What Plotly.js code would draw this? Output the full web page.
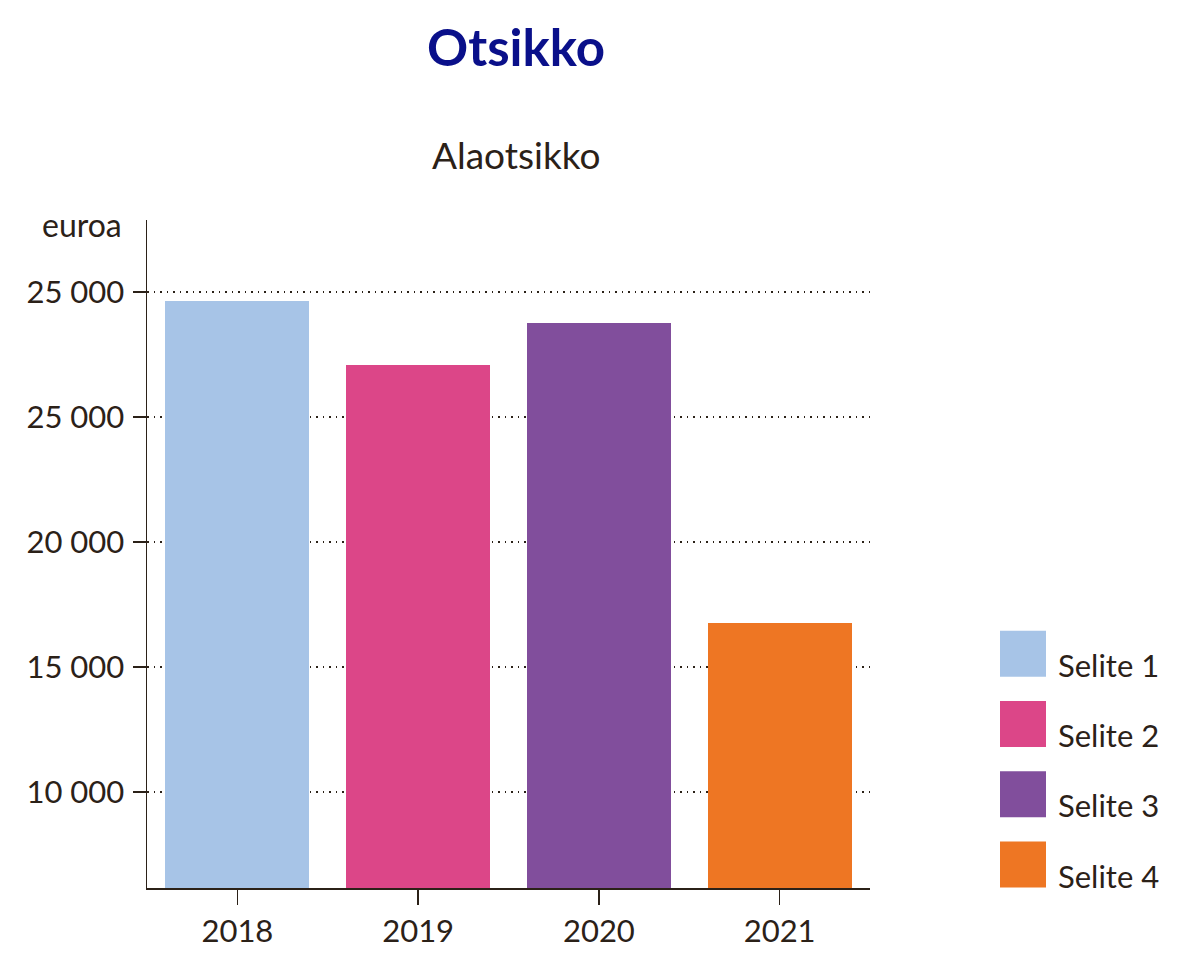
<!DOCTYPE html>
<html>
<head>
<meta charset="utf-8">
<script src="https://cdn.plot.ly/plotly-3.0.1.min.js"></script>
<style>html,body{margin:0;padding:0;background:#fff;}#chart{width:1200px;height:958px;}</style>
</head>
<body>
<div id="chart"></div>
<script>
// ---- data ----
var categories = ['2018', '2019', '2020', '2021'];
var seriesNames = ['Selite 1', 'Selite 2', 'Selite 3', 'Selite 4'];
var seriesValues = [29640, 27080, 28760, 16760];
var seriesColors = ['#a7c4e7', '#dc4688', '#814e9c', '#ee7623'];
var yTickVals = [10000, 15000, 20000, 25000, 30000];
var yTickText = ['10 000', '15 000', '20 000', '25 000', '25 000'];
var titleText = 'Otsikko';
var subtitleText = 'Alaotsikko';
var yUnit = 'euroa';

var ink = '#2b2118';
var FONT = 'Lato, "Open Sans", sans-serif';
var PL = 147, PR = 870, PT = 220, PB = 888;
var PW = PR - PL, PH = PB - PT;

var data = seriesNames.map(function (name, i) {
  return {
    type: 'bar',
    name: name,
    x: [categories[i]],
    y: [seriesValues[i]],
    marker: { color: seriesColors[i], line: { width: 0 } },
    legendgroup: 'g' + i,
    hoverinfo: 'x+y+name'
  };
});

var layout = {
  width: 1200,
  height: 958,
  paper_bgcolor: '#ffffff',
  plot_bgcolor: '#ffffff',
  margin: { l: PL, r: 1200 - PR, t: PT, b: 958 - PB, pad: 0 },
  font: { family: FONT, color: ink, size: 30 },
  title: {
    text: '<b>' + titleText + '</b>',
    font: { family: FONT, size: 51, color: '#0a108a' },
    xref: 'container', x: 516 / 1200, xanchor: 'center',
    yref: 'container', y: 1 - 48 / 958, yanchor: 'middle'
  },
  barmode: 'stack',
  bargap: 0.203,
  showlegend: true,
  legend: {
    x: (988 - PL) / PW, xanchor: 'left',
    y: (PB - 638) / PH, yanchor: 'top',
    font: { family: FONT, size: 31, color: ink },
    itemwidth: 60,
    tracegroupgap: 27,
    bgcolor: 'rgba(0,0,0,0)',
    traceorder: 'grouped'
  },
  xaxis: {
    type: 'category',
    categoryorder: 'array',
    categoryarray: categories,
    showline: true, linecolor: ink, linewidth: 1.5,
    ticks: 'outside', ticklen: 15, tickwidth: 1.5, tickcolor: ink,
    tickfont: { family: FONT, size: 31, color: ink },
    showgrid: false, zeroline: false,
    fixedrange: true
  },
  yaxis: {
    range: [6160, 32880],
    tickvals: yTickVals,
    ticktext: yTickText,
    showline: true, linecolor: ink, linewidth: 1.5,
    ticks: 'outside', ticklen: 13, tickwidth: 1.5, tickcolor: ink,
    ticklabelstandoff: 2,
    tickfont: { family: FONT, size: 31, color: ink },
    showgrid: true, gridcolor: '#2b2118', gridwidth: 1.8, griddash: '1.8px,4.7px',
    zeroline: false,
    fixedrange: true
  },
  annotations: [
    {
      text: subtitleText,
      xref: 'paper', x: (516 - PL) / PW, xanchor: 'center',
      yref: 'paper', y: (PB - 155) / PH, yanchor: 'middle',
      showarrow: false,
      font: { family: FONT, size: 37, color: ink }
    },
    {
      text: yUnit,
      xref: 'paper', x: (124 - PL) / PW, xanchor: 'right',
      yref: 'paper', y: (PB - 224) / PH, yanchor: 'middle',
      showarrow: false,
      font: { family: FONT, size: 32, color: ink }
    }
  ]
};

Plotly.newPlot('chart', data, layout, { displayModeBar: false, staticPlot: true }).then(function (gd) {
  gd.querySelectorAll('.legend [clip-path]').forEach(function (el) {
    el.removeAttribute('clip-path');
  });
  gd.querySelectorAll('.legend .traces').forEach(function (tr) {
    tr.querySelectorAll('.legendpoints path').forEach(function (p) {
      p.setAttribute('d', 'M23,12H-23V-34H23Z');
    });
  });
});
</script>
</body>
</html>
